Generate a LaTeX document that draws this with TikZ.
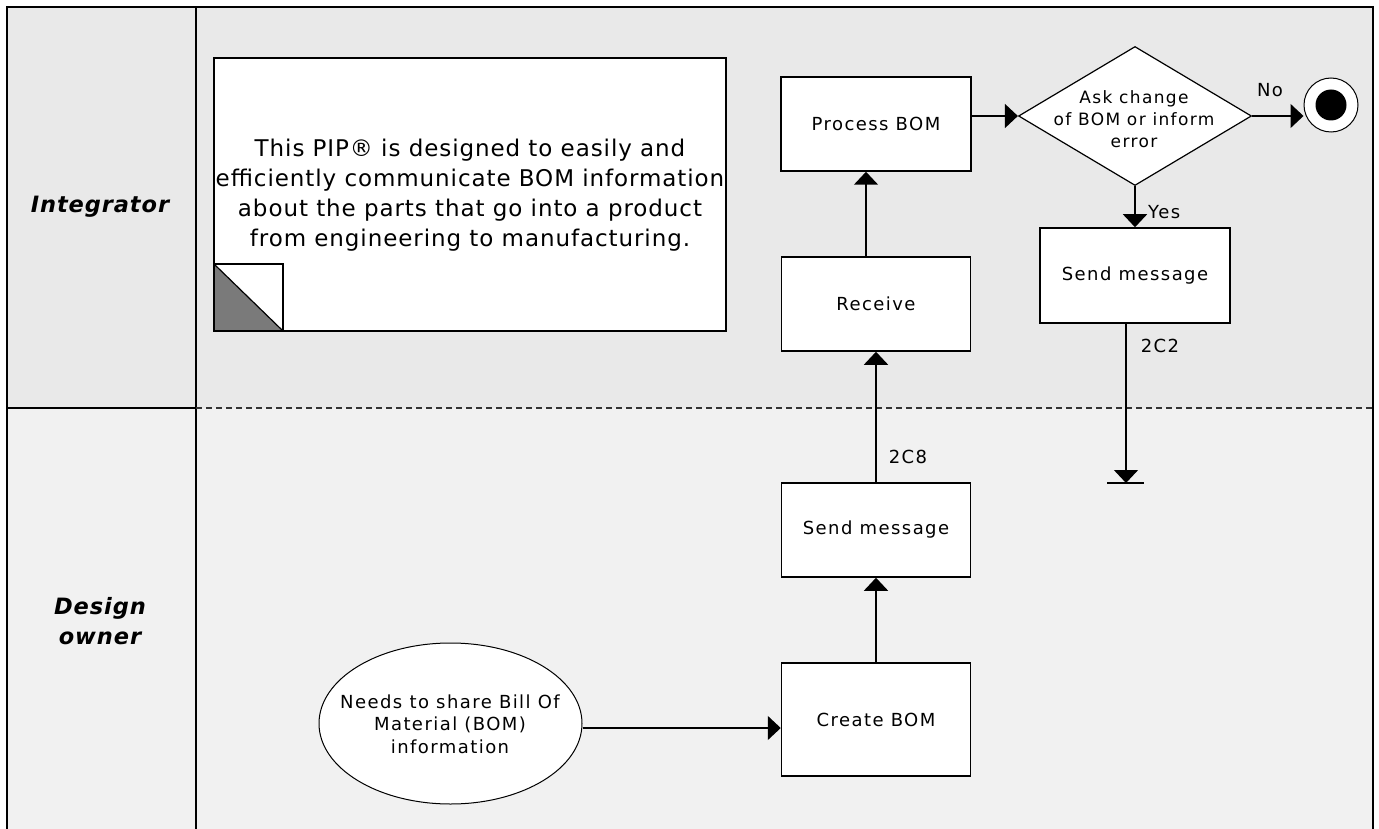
\documentclass[tikz,border=0pt]{standalone}
\usepackage{fontspec}
\usetikzlibrary{arrows.meta,shapes.geometric}
\newfontfamily\vf[LetterSpace=8]{DejaVu Sans}
\newfontfamily\nf[LetterSpace=4]{DejaVu Sans}
\newfontfamily\lf[LetterSpace=4]{DejaVu Sans}
\definecolor{laneA}{HTML}{E9E9E9}
\definecolor{laneB}{HTML}{F1F1F1}
\definecolor{foldgray}{HTML}{7A7A7A}
\begin{document}
\begin{tikzpicture}[x=1pt,y=-1pt,
  box/.style={draw, line width=1.5pt, fill=white, minimum width=189pt, minimum height=94pt, inner sep=0pt, font=\vf\fontsize{18}{22}\selectfont},
  arr/.style={line width=1.5pt, -{Triangle[length=13pt,width=24pt]}},
  plain/.style={line width=1.5pt},
  small/.style={inner sep=0pt, font=\vf\fontsize{18}{22}\selectfont},
  lanelbl/.style={inner sep=0pt, align=center, font=\lf\fontsize{22.5}{30}\selectfont\bfseries\itshape}
]
\useasboundingbox (0,0) rectangle (1379,829);
% lanes
\fill[laneA] (7,7) rectangle (1373,408);
\fill[laneB] (7,408) rectangle (1373,829);
\draw[plain] (7,829) -- (7,7) -- (1373,7) -- (1373,829);
\draw[plain] (196,7) -- (196,829);
\draw[plain] (7,408) -- (196,408);
\draw[line width=1.3pt, black!80, dash pattern=on 6pt off 4pt] (196,408) -- (1373,408);
\node[lanelbl] (lint) at (100,207) {Integrator};
\node[lanelbl] (ldes) at (100,621) {Design\\owner};
% note
\draw[plain, fill=white] (214,58) rectangle (726,331);
\fill[foldgray] (214,264) -- (214,331) -- (283,331) -- cycle;
\draw[line width=1.2pt] (214,264) -- (283,264) -- (283,331);
\draw[line width=1.2pt] (214,264) -- (283,331);
\draw[plain] (214,58) rectangle (726,331);
\node[inner sep=0pt, align=center, font=\nf\fontsize{23}{30}\selectfont] (note) at (470,195)
  {This PIP® is designed to easily and\\efficiently communicate BOM information\\about the parts that go into a product\\from engineering to manufacturing.};
% boxes
\node[box, minimum width=190pt] (proc) at (876,124) {Process BOM};
\node[box] (recv) at (876,304) {Receive};
\node[box] (send2) at (876,530) {Send message};
\node[box, minimum height=113pt] (create) at (876,719.5) {Create BOM};
\node[box, minimum width=190pt, minimum height=95pt] (send1) at (1135,275.5) {Send message};
\node[draw, line width=1.2pt, fill=white, diamond, minimum width=233pt, minimum height=139pt, inner sep=0pt] (dia) at (1135,116) {};
\node[inner sep=0pt, align=center, font=\vf\fontsize{17}{22}\selectfont] (diat) at (1134,119) {Ask change\\of BOM or inform\\error};
\node[draw, line width=1pt, fill=white, circle, minimum size=54pt, inner sep=0pt] (endc) at (1331,105) {};
\node[fill=black, circle, minimum size=31pt, inner sep=0pt] (endi) at (endc.center) {};
\node[draw, line width=1pt, fill=white, ellipse, minimum width=263pt, minimum height=161pt, inner sep=0pt] (ell) at (450.5,723.5) {};
\node[inner sep=0pt, align=center, font=\vf\fontsize{18}{22.5}\selectfont] (ellt) at (450,724)
  {Needs to share Bill Of\\Material (BOM)\\information};
\coordinate (term) at (1126,483);
% connectors
\draw[arr] ([yshift=-4.5pt]ell.east) -- ([yshift=-8.5pt]create.west);
\draw[arr] (create.north) -- (send2.south);
\draw[arr] (send2.north) -- (recv.south);
\draw[arr] ([xshift=-10pt]recv.north) -- ([xshift=-10pt]proc.south);
\draw[arr] ([yshift=8pt]proc.east) -- (dia.west);
\draw[arr] (dia.east) -- (dia.east -| endc.west);
\draw[arr] (dia.south) -- (send1.north);
\draw[arr] ([xshift=-9pt]send1.south) -- (term);
\draw[plain] ([xshift=-19pt]term) -- ([xshift=18pt]term);
% labels
\node[small] (l2c8) at (908,457) {2C8};
\node[small] (l2c2) at (1160,346) {2C2};
\node[small] (lno) at (1270,90) {No};
\node[small, anchor=west] (lyes) at (1148,212) {Yes};
\end{tikzpicture}
\end{document}
